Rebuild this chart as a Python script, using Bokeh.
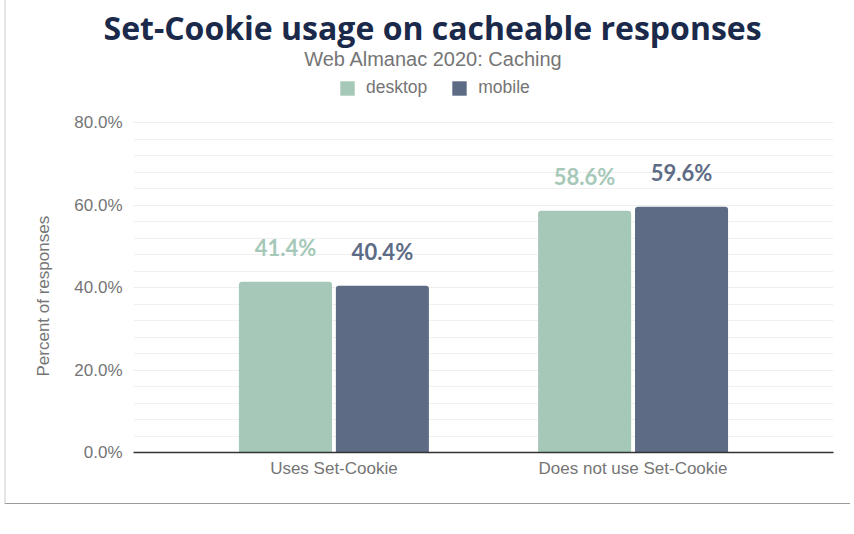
from bokeh.plotting import figure
from bokeh.models import (FactorRange, Range1d, FixedTicker, PrintfTickFormatter,
                          Legend, LegendItem, Title, Label, ColumnDataSource)
from bokeh.transform import dodge
from bokeh.core.properties import value
from bokeh.embed import file_html
from bokeh.resources import INLINE

# ---- data ----
categories = ["Uses Set-Cookie", "Does not use Set-Cookie"]
desktop = [41.4, 58.6]
mobile = [40.4, 59.6]
series_names = ["desktop", "mobile"]
y_major_ticks = [0, 20, 40, 60, 80]
y_minor_ticks = [4, 8, 12, 16, 24, 28, 32, 36, 44, 48, 52, 56, 64, 68, 72, 76]
title_text = "Set-Cookie usage on cacheable responses"
subtitle_text = "Web Almanac 2020: Caching"
y_label = "Percent of responses"

DESK = "#a6c8b8"
MOB = "#5d6b85"
GRAY = "#757575"

# ---- layout constants (pixels, canvas coordinates) ----
X0 = 6                                  # card margin + border on the left
W, H = 846, 504
FRAME_LEFT, FRAME_RIGHT = 133 - X0, 833 - X0
FRAME_TOP, FRAME_BOTTOM = 50, 452       # canvas y of frame edges
AXIS_TOP_PX = 122                       # canvas y where 80% sits
y_end = 80 * (FRAME_BOTTOM - FRAME_TOP) / (FRAME_BOTTOM - AXIS_TOP_PX)

src = ColumnDataSource(dict(
    cat=categories,
    desktop=desktop,
    mobile=mobile,
    desktop_txt=[f"{v:.1f}%" for v in desktop],
    mobile_txt=[f"{v:.1f}%" for v in mobile],
))

p = figure(width=W, height=H,
           x_range=FactorRange(*categories, range_padding=0.17, range_padding_units="absolute"),
           y_range=Range1d(0, y_end),
           output_backend="svg", toolbar_location=None,
           min_border_left=FRAME_LEFT, min_border_right=W - FRAME_RIGHT,
           min_border_top=FRAME_TOP, min_border_bottom=H - FRAME_BOTTOM)
p.outline_line_color = None
p.background_fill_color = "white"
p.border_fill_color = "white"
p.styles = {"margin-left": "4px", "border-left": "2px solid #e6e6e6",
            "border-bottom": "1px solid #9a9a9a"}

r1 = p.vbar(x=dodge('cat', -0.162, range=p.x_range), top='desktop', width=0.311, source=src,
            fill_color=DESK, line_color=None, border_radius=(3, 3, 0, 0))
r2 = p.vbar(x=dodge('cat', 0.162, range=p.x_range), top='mobile', width=0.311, source=src,
            fill_color=MOB, line_color=None, border_radius=(3, 3, 0, 0))

p.text(x=dodge('cat', -0.162, range=p.x_range), y='desktop', text='desktop_txt', source=src,
       text_align="center", text_baseline="middle", y_offset=-34,
       text_font=value("Lato"), text_font_style="bold", text_font_size="22px", text_color=DESK)
p.text(x=dodge('cat', 0.162, range=p.x_range), y='mobile', text='mobile_txt', source=src,
       text_align="center", text_baseline="middle", y_offset=-34,
       text_font=value("Lato"), text_font_style="bold", text_font_size="22px", text_color=MOB)

# grid
p.xgrid.grid_line_color = None
p.ygrid.grid_line_color = "#eeeeee"
p.ygrid.minor_grid_line_color = "#f0f0f0"

# y axis
p.yaxis.ticker = FixedTicker(ticks=y_major_ticks, minor_ticks=y_minor_ticks)
p.yaxis.formatter = PrintfTickFormatter(format="%.1f%%")
p.yaxis.axis_line_color = None
p.yaxis.major_tick_line_color = None
p.yaxis.minor_tick_line_color = None
p.yaxis.major_label_text_font = "Liberation Sans"
p.yaxis.major_label_text_font_size = "17px"
p.yaxis.major_label_text_color = GRAY
p.yaxis.major_label_standoff = 5

# x axis
p.xaxis.axis_line_color = "#333333"
p.xaxis.axis_line_width = 1.5
p.xaxis.major_tick_line_color = None
p.xaxis.minor_tick_line_color = None
p.xaxis.major_label_text_font = "Liberation Sans"
p.xaxis.major_label_text_font_size = "17px"
p.xaxis.major_label_text_color = GRAY
p.xaxis.major_label_standoff = 0

# y-axis title as a side title (rotated), offset from the bottom of the frame
p.add_layout(Title(text=y_label, align="left", offset=76, standoff=37,
                   text_font="Liberation Sans", text_font_size="17px",
                   text_font_style="normal", text_color=GRAY), "left")

# main title in the panel above the frame
p.add_layout(Title(text=title_text, align="left", offset=-30, standoff=0,
                   vertical_align="top",
                   text_font="Open Sans", text_font_size="32px",
                   text_font_style="bold", text_color="#1b2a4a"), "above")

# subtitle and legend sit in the (extended) frame, above the 80% line
p.add_layout(Label(x=300, y=FRAME_BOTTOM - 58, x_units="screen", y_units="screen",
                   text=subtitle_text, text_align="center", text_baseline="alphabetic",
                   text_font="Liberation Sans", text_font_size="20px", text_color=GRAY))

legend = Legend(items=[LegendItem(label=series_names[0], renderers=[r1]),
                       LegendItem(label=series_names[1], renderers=[r2])],
                orientation="horizontal", location=(205, 354),
                glyph_width=18, glyph_height=18, label_standoff=10, spacing=23,
                label_text_font="Liberation Sans", label_text_font_size="17.5px",
                label_text_color=GRAY, border_line_color=None, background_fill_alpha=0,
                padding=0, margin=0)
p.add_layout(legend, "center")

open("out.html", "w").write(file_html(p, INLINE))
